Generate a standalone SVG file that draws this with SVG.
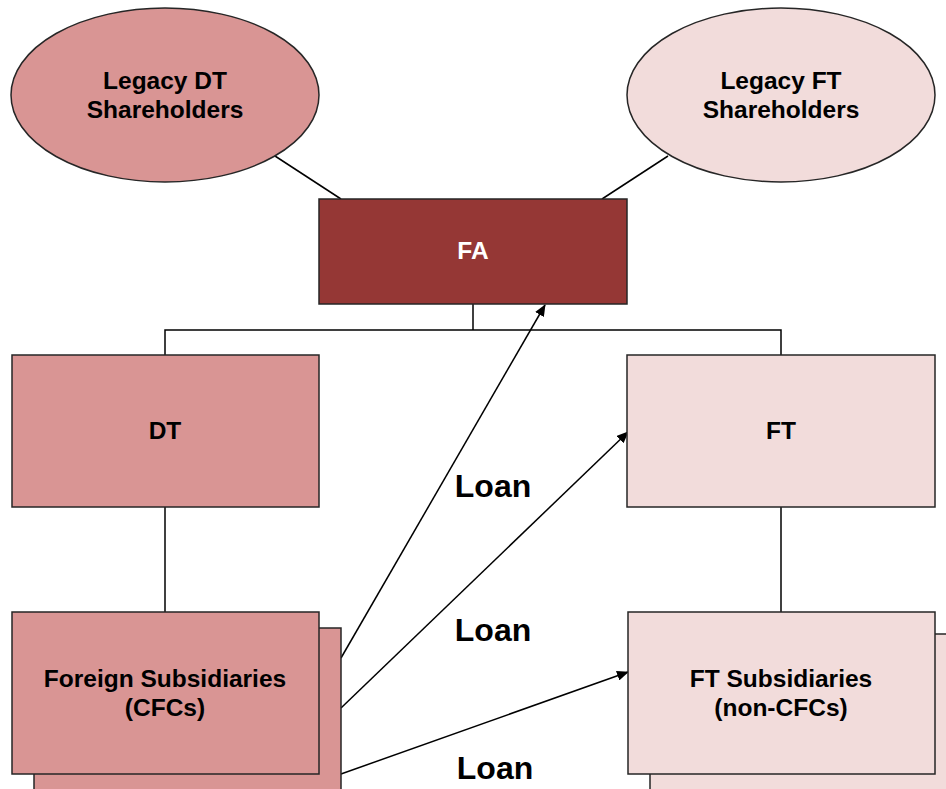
<svg xmlns="http://www.w3.org/2000/svg" width="946" height="789" viewBox="0 0 946 789">
<defs>
<marker id="ah" markerWidth="12" markerHeight="10" refX="11" refY="5" orient="auto" markerUnits="userSpaceOnUse">
<path d="M0,0 L12,5 L0,10 z" fill="#000"/>
</marker>
<style>
.dk{fill:#d99594;stroke:#262626;stroke-width:1.5}
.lt{fill:#f2dcdb;stroke:#262626;stroke-width:1.5}
.fa{fill:#953735;stroke:#262626;stroke-width:1.5}
.t{font-family:"Liberation Sans",Arial,sans-serif;font-weight:bold;font-size:24.5px;text-anchor:middle;fill:#000}
.w{fill:#fff}
.loan{font-family:"Liberation Sans",Arial,sans-serif;font-weight:bold;font-size:32px;text-anchor:middle;fill:#000}
.ln{stroke:#000;stroke-width:1.5;fill:none}
</style>
</defs>
<rect width="946" height="789" fill="#fff"/>
<g id="connectors">
<line class="ln" x1="275" y1="156" x2="341" y2="199"/>
<line class="ln" x1="668" y1="156" x2="602" y2="199"/>
<polyline class="ln" points="473,304 473,330"/>
<polyline class="ln" points="165,355 165,330 781,330 781,355"/>
<line class="ln" x1="165" y1="507" x2="165" y2="612"/>
<line class="ln" x1="781" y1="507" x2="781" y2="612"/>
<line class="ln" x1="341" y1="658" x2="545" y2="305" marker-end="url(#ah)"/>
<line class="ln" x1="341" y1="708" x2="628" y2="432" marker-end="url(#ah)"/>
<line class="ln" x1="341" y1="774" x2="628" y2="672" marker-end="url(#ah)"/>
</g>
<g id="legacy-dt">
<ellipse class="dk" cx="165" cy="95" rx="154" ry="87"/>
<text class="t" x="165" y="89">Legacy DT</text>
<text class="t" x="165" y="118">Shareholders</text>
</g>
<g id="legacy-ft">
<ellipse class="lt" cx="781" cy="95" rx="154" ry="87"/>
<text class="t" x="781" y="89">Legacy FT</text>
<text class="t" x="781" y="118">Shareholders</text>
</g>
<g id="fa">
<rect class="fa" x="319" y="199" width="308" height="105"/>
<text class="t w" x="473" y="259">FA</text>
</g>
<g id="dt">
<rect class="dk" x="12" y="355" width="307" height="152"/>
<text class="t" x="165" y="439">DT</text>
</g>
<g id="ft">
<rect class="lt" x="627" y="355" width="308" height="152"/>
<text class="t" x="781" y="439">FT</text>
</g>
<g id="foreign-subs">
<rect class="dk" x="34" y="628" width="307" height="170"/>
<rect class="dk" x="12" y="612" width="307" height="162"/>
<text class="t" x="165" y="687">Foreign Subsidiaries</text>
<text class="t" x="165" y="716">(CFCs)</text>
</g>
<g id="ft-subs">
<rect class="lt" x="650" y="634" width="308" height="170"/>
<rect class="lt" x="628" y="612" width="307" height="162"/>
<text class="t" x="781" y="687">FT Subsidiaries</text>
<text class="t" x="781" y="716">(non-CFCs)</text>
</g>
<g id="labels">
<text class="loan" x="493" y="497">Loan</text>
<text class="loan" x="493" y="641">Loan</text>
<text class="loan" x="495" y="779">Loan</text>
</g>
</svg>
